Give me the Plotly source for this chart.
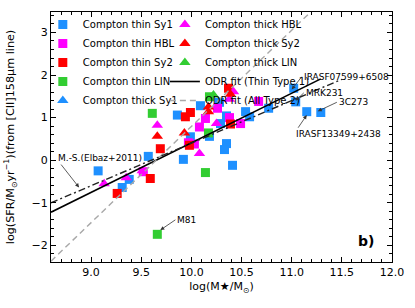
import plotly.graph_objects as go

# ---- data ----
thin_sy1_x = [9.07, 9.31, 9.38, 9.57, 9.86, 9.92, 9.99, 10.09, 10.18, 10.28, 10.29, 10.35, 10.35, 10.33, 10.41, 10.54, 10.58, 10.77, 11.02, 11.04, 11.15, 11.29]
thin_sy1_y = [-0.25, -0.64, -0.45, 0.09, 1.06, 0.02, 0.55, 1.28, 0.56, 1.36, 0.86, 1.04, 0.39, 0.25, -0.12, 1.14, 1.02, 1.22, 1.69, 1.37, 1.14, 1.12]
thin_hbl_x = [9.52, 9.97, 10.03, 10.08, 10.14, 10.26, 10.38, 10.49, 10.67]
thin_hbl_y = [-0.27, 0.41, 0.38, 0.78, 0.98, 1.22, 1.00, 0.86, 1.38]
thin_sy2_x = [9.26, 9.59, 9.69, 9.94, 9.99, 9.98, 10.37, 10.39]
thin_sy2_y = [-0.78, -0.43, 0.27, 1.02, 1.12, 0.35, 1.69, 0.85]
thin_lin_x = [9.61, 10.18, 10.17, 10.14, 9.66]
thin_lin_y = [1.10, 1.49, 0.64, -0.29, -1.74]
thick_sy1_x = [None]
thick_sy1_y = [None]
thick_hbl_x = [9.13, 9.35, 9.51, 9.66, 10.08, 10.25, 10.38, 10.42]
thick_hbl_y = [-0.55, -0.41, -0.25, 0.82, 0.16, 0.86, 1.43, 1.61]
thick_sy2_x = [9.66, 9.93, 10.17, 10.17, 10.39]
thick_sy2_y = [0.56, 0.64, 1.25, 1.14, 1.55]
thick_lin_x = [10.22]
thick_lin_y = [1.53]

odr1_x = [8.6, 11.29]
odr1_y = [-1.22, 1.91]
odr2_x = [8.6, 11.22]
odr2_y = [-2.37, 3.55]
ms_x = [8.6, 11.5]
ms_y = [-1.0, 1.9]

labels = ["IRASF07599+6508", "MRK231", "3C273", "IRASF13349+2438", "M81", "M.-S.(Elbaz+2011)"]
label_pt_x = [11.0, 11.04, 11.26, 11.15, 9.69, 8.88]
label_pt_y = [1.66, 1.40, 1.15, 1.06, -1.64, -0.64]
label_txt_x = [11.10, 11.12, 11.45, 11.02, 9.84, 8.65]
label_txt_y = [1.96, 1.58, 1.36, 0.61, -1.40, 0.05]

blue = "#1E90FF"
magenta = "#FF00FF"
red = "#FF0000"
green = "#32CD32"

fig = go.Figure()

def sq(x, y, name, color, legend):
    fig.add_trace(go.Scatter(x=x, y=y, mode="markers", name=name, legend=legend,
                             marker=dict(symbol="square", size=9, color=color)))

def tri(x, y, name, color, legend):
    fig.add_trace(go.Scatter(x=x, y=y, mode="markers", name=name, legend=legend,
                             marker=dict(symbol="triangle-up", size=10, color=color)))

sq(thin_sy1_x, thin_sy1_y, "Compton thin Sy1", blue, "legend")
sq(thin_hbl_x, thin_hbl_y, "Compton thin HBL", magenta, "legend")
sq(thin_sy2_x, thin_sy2_y, "Compton thin Sy2", red, "legend")
sq(thin_lin_x, thin_lin_y, "Compton thin LIN", green, "legend")
tri(thick_sy1_x, thick_sy1_y, "Compton thick Sy1", blue, "legend")
tri(thick_hbl_x, thick_hbl_y, "Compton thick HBL", magenta, "legend2")
tri(thick_sy2_x, thick_sy2_y, "Compton thick Sy2", red, "legend2")
tri(thick_lin_x, thick_lin_y, "Compton thick LIN", green, "legend2")

fig.add_trace(go.Scatter(x=odr1_x, y=odr1_y, mode="lines", name="ODR fit (Thin Type 1)", legend="legend2",
                         line=dict(color="black", width=1.6)))
fig.add_trace(go.Scatter(x=odr2_x, y=odr2_y, mode="lines", name="ODR fit (All Type 2)", legend="legend2",
                         line=dict(color="#A8A8A8", width=1.4, dash="6px,4px")))
fig.add_trace(go.Scatter(x=ms_x, y=ms_y, mode="lines", showlegend=False,
                         line=dict(color="#222222", width=1.4, dash="7px,3px,2px,3px")))

for t, px, py, tx, ty in zip(labels, label_pt_x, label_pt_y, label_txt_x, label_txt_y):
    fig.add_annotation(x=px, y=py, ax=tx, ay=ty, axref="x", ayref="y", xref="x", yref="y",
                       text=t, showarrow=True, arrowhead=2, arrowsize=1, arrowwidth=0.8,
                       arrowcolor="#333333", xanchor="left", yanchor="middle",
                       font=dict(family="DejaVu Sans", size=9, color="black"))

fig.add_annotation(x=0.954, y=0.044, xref="paper", yref="paper", text="<b>b)</b>", showarrow=False,
                   font=dict(family="DejaVu Sans", size=14, color="black"))

axis_common = dict(showgrid=False, zeroline=False, showline=True, linecolor="black", linewidth=1,
                   mirror="allticks", ticks="inside", ticklen=5, tickwidth=1, tickcolor="black",
                   tickfont=dict(family="DejaVu Sans", size=11, color="black"))

fig.update_xaxes(range=[8.6, 12.0], dtick=0.5, tickformat=".1f",
                 minor=dict(dtick=0.1, ticks="inside", ticklen=3, tickcolor="black"),
                 title=dict(text="log(M★/M<sub>⊙</sub>)", font=dict(family="DejaVu Sans", size=11), standoff=4),
                 **axis_common)
fig.update_yaxes(range=[-2.39, 3.48], dtick=1,
                 minor=dict(dtick=0.2, ticks="inside", ticklen=3, tickcolor="black"),
                 title=dict(text="log(SFR/M<sub>⊙</sub>yr<sup>−1</sup>)(from [CII]158μm line)",
                            font=dict(family="DejaVu Sans", size=11.2), standoff=14),
                 **axis_common)

leg_common = dict(bgcolor="rgba(0,0,0,0)", font=dict(family="DejaVu Sans", size=10, color="black"),
                  tracegroupgap=0, itemwidth=30, yanchor="top", xanchor="left")
fig.update_layout(
    width=415, height=308,
    margin=dict(l=51, r=23, t=12, b=46, autoexpand=False),
    paper_bgcolor="white", plot_bgcolor="white",
    font=dict(family="DejaVu Sans", color="black"),
    legend=dict(x=-0.024, y=1.008, **leg_common),
    legend2=dict(x=0.334, y=1.008, **leg_common),
)

fig.write_html("out.html", config={"displayModeBar": False},
               post_script="document.body.style.margin='0px';")
